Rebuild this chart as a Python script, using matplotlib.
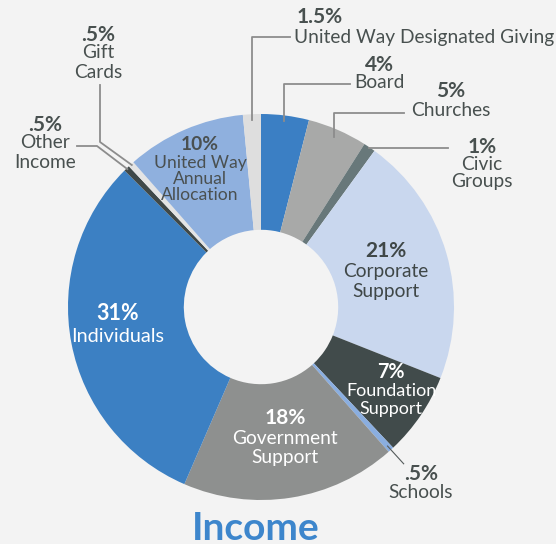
import matplotlib.pyplot as plt
import numpy as np

# slices, clockwise from 12 o'clock
names = ["Board", "Churches", "Civic\nGroups", "Corporate\nSupport", "Foundation\nSupport",
         "Schools", "Government\nSupport", "Individuals", "Other\nIncome", "Gift\nCards",
         "United Way\nAnnual\nAllocation", "United Way Designated Giving"]
values = [4, 5, 1, 21, 7, 0.5, 18, 31, 0.5, 0.5, 10, 1.5]
pct_labels = ["4%", "5%", "1%", "21%", "7%", ".5%", "18%", "31%", ".5%", ".5%", "10%", "1.5%"]
colors = ["#3b7fc4", "#a8a9a8", "#68787a", "#c9d7ee", "#414b4b", "#8aaee0",
          "#8e908f", "#3c80c3", "#3f4848", "#e4e4e4", "#8fb0de", "#dedede"]

plt.rcParams['font.family'] = ['Lato', 'DejaVu Sans']

W, H = 556, 544
cx, cy, R = 261, 307, 193
dark = "#48504f"
line_c = "#8c8c8c"

fig = plt.figure(figsize=(W / 100, H / 100), dpi=100)
fig.patch.set_facecolor("#f3f3f3")
ax = fig.add_axes([0, 0, 1, 1])
ax.set_facecolor("#f3f3f3")

ax.pie(values, colors=colors, startangle=-90, counterclock=True, center=(cx, cy), radius=R,
       wedgeprops=dict(width=R * 0.6, linewidth=0))
ax.set_xlim(0, W)
ax.set_ylim(H, 0)
ax.set_aspect('equal')
ax.axis('off')

cum = np.cumsum(values) - np.array(values) / 2


def polar(i, r):
    t = np.deg2rad(cum[i] / 100 * 360)
    return cx + r * np.sin(t), cy - r * np.cos(t)


def label(i, x, y_pct, y_name, color, size=13.8, gap=19, name_x=None, ha='center'):
    ax.text(x, y_pct, pct_labels[i], ha='center', va='center', fontsize=size + 1.2,
            fontweight='bold', color=color)
    for k, ln in enumerate(names[i].split("\n")):
        ax.text(x if name_x is None else name_x, y_name + k * gap, ln, ha=ha, va='center',
                fontsize=size, color=color)


# inside labels
label(7, 118, 314, 336, "white", size=14.3)
label(6, 285, 418, 438, "white", gap=19)
label(4, 391, 372, 391, "white", size=13, gap=18)
label(3, 386, 251, 272, "#3f4747", gap=20)
label(10, 200, 145, 163, "#4a5050", size=12.6, gap=16)

# outside labels
label(11, 320, 17, 37, dark, name_x=294, ha='left')
label(0, 379, 65, 83, dark)
label(1, 451, 91, 110, dark)
label(2, 482, 147, 164, dark, gap=18)
label(5, 421, 474, 492, dark)
label(9, 98, 35, 53, dark)
label(8, 45, 125, 143, dark)

# leader lines
x0, y0 = polar(11, 187)
ax.plot([x0, x0, 290], [y0, 37, 37], color=line_c, lw=1.3)
x0, y0 = polar(0, 187)
ax.plot([x0, x0, 350], [y0, 84, 84], color=line_c, lw=1.3)
x0, y0 = polar(1, 185)
ax.plot([x0, x0, 404], [y0, 113, 113], color=line_c, lw=1.3)
x0, y0 = polar(2, 192)
ax.plot([x0, 448], [y0, y0], color=line_c, lw=1.3)
x0, y0 = polar(5, 188)
x1, y1 = polar(5, 212)
ax.plot([x0, x1], [y0, y1], color="#555b5b", lw=0.8)
x0, y0 = polar(8, 192)
ax.plot([x0, 97, 77], [y0, 146, 146], color=line_c, lw=1.3)
x0, y0 = polar(9, 192)
ax.plot([x0, 100, 100], [y0, 142, 85], color=line_c, lw=1.3)

ax.text(256, 528, "Income", ha='center', va='center', fontsize=28, fontweight='bold',
        color="#3d86cc")

fig.savefig("out.png", dpi=100, facecolor=fig.get_facecolor())
